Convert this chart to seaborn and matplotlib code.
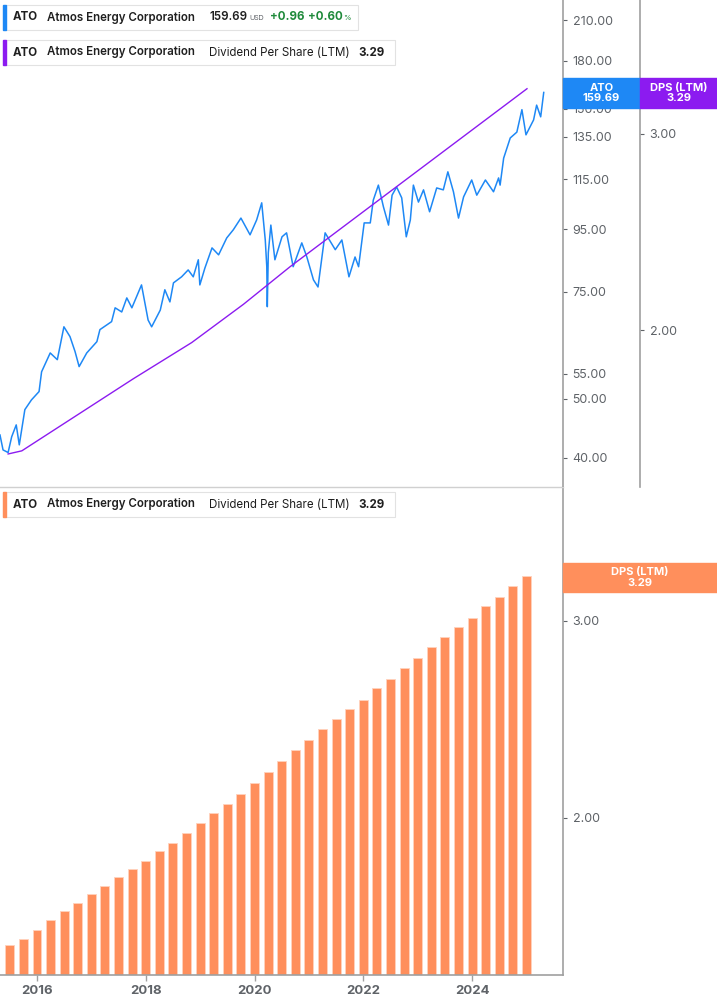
import seaborn as sns
import pandas as pd
import matplotlib.pyplot as plt
from matplotlib.ticker import FixedLocator, NullLocator, FixedFormatter
from matplotlib.patches import Rectangle

###################
# Data
# price panel x positions are in the top panel's own time units (no tick labels there)
price_years = [2015.32, 2015.38, 2015.48, 2015.55, 2015.64, 2015.70, 2015.81, 2015.94, 2016.09, 2016.14,
               2016.31, 2016.45, 2016.58, 2016.70, 2016.80, 2016.88, 2017.03, 2017.23, 2017.29, 2017.52,
               2017.59, 2017.72, 2017.82, 2017.92, 2018.11, 2018.24, 2018.31, 2018.48, 2018.57, 2018.67,
               2018.74, 2018.90, 2019.03, 2019.13, 2019.23, 2019.26, 2019.36, 2019.50, 2019.63, 2019.79,
               2019.92, 2020.07, 2020.25, 2020.38, 2020.48, 2020.55, 2020.58, 2020.59, 2020.61, 2020.66,
               2020.74, 2020.88, 2020.97, 2021.10, 2021.27, 2021.37, 2021.50, 2021.59, 2021.73, 2021.93,
               2022.06, 2022.20, 2022.32, 2022.39, 2022.50, 2022.62, 2022.68, 2022.78, 2022.88, 2022.98,
               2023.05, 2023.14, 2023.24, 2023.33, 2023.41, 2023.47, 2023.57, 2023.67, 2023.79, 2023.93,
               2024.06, 2024.15, 2024.26, 2024.36, 2024.46, 2024.62, 2024.72, 2024.89, 2025.05, 2025.15,
               2025.18, 2025.25, 2025.38, 2025.51, 2025.61, 2025.69, 2025.84, 2025.90, 2025.98, 2026.04]
price_values = [43.6, 41.2, 40.8, 43.3, 45.3, 42.0, 48.0, 49.8, 51.4, 55.4,
                59.5, 58.0, 65.7, 63.3, 59.8, 56.5, 59.5, 62.1, 65.0, 67.0,
                70.6, 69.5, 73.3, 70.6, 77.0, 67.4, 65.7, 70.0, 75.6, 72.2,
                77.6, 79.4, 81.5, 79.4, 84.7, 77.0, 82.1, 88.6, 86.3, 92.0,
                94.9, 99.2, 93.1, 98.5, 105.1, 91.3, 82.5, 70.9, 87.0, 96.6,
                84.7, 92.4, 93.8, 82.5, 90.3, 85.6, 78.5, 76.4, 93.8, 88.0,
                91.3, 79.4, 85.6, 82.5, 97.4, 97.4, 106.2, 112.4, 103.5, 96.6,
                108.2, 111.6, 107.1, 92.4, 98.5, 112.4, 105.4, 110.4, 101.6, 111.2,
                110.4, 118.2, 109.6, 99.2, 107.5, 114.6, 108.2, 114.6, 109.6, 115.5,
                112.4, 124.5, 134.4, 137.4, 149.6, 136.0, 143.9, 152.2, 145.6, 159.69]

dps_line_years = [2015.48, 2015.75, 2017.95, 2019.10, 2020.12, 2021.04, 2025.71]
dps_line_values = [1.55, 1.56, 1.81, 1.95, 2.11, 2.28, 3.29]

quarters = pd.period_range("2015Q3", "2025Q1", freq="Q")
dps_bars = [1.54, 1.56, 1.59, 1.62, 1.65, 1.68, 1.71, 1.74, 1.77, 1.80,
            1.83, 1.87, 1.90, 1.94, 1.98, 2.02, 2.06, 2.10, 2.15, 2.20,
            2.25, 2.30, 2.35, 2.40, 2.45, 2.50, 2.55, 2.61, 2.66, 2.72,
            2.78, 2.84, 2.90, 2.96, 3.02, 3.09, 3.15, 3.22, 3.29]

price_ticks = [40, 50, 55, 75, 95, 115, 135, 150, 180, 210]
dps_ticks = [2.0, 3.0]
year_ticks = [2016, 2018, 2020, 2022, 2024]

###################
# Setup
plt.rcParams["font.family"] = "Inter"
blue, purple, orange = "#1E88F5", "#8C1BF0", "#FF8F5C"
grey = "#5f6368"
W, H = 717, 1005
fig = plt.figure(figsize=(W / 100, H / 100), dpi=100)

def rect(x0, y0, x1, y1):
    return [x0 / W, 1 - y1 / H, (x1 - x0) / W, (y1 - y0) / H]

ax_top = fig.add_axes(rect(0, 0, 563, 487))
ax_bot = fig.add_axes(rect(0, 487, 563, 975))

###################
# Price panel
price = pd.DataFrame({"year": price_years, "price": price_values})
sns.lineplot(price, x="year", y="price", ax=ax_top, color=blue, linewidth=1.1)
ax_dps = ax_top.twinx()
ax_top.set_yscale("log")
ax_top.set_ylim(35.8, 226.7)
ax_top.set_xlim(2015.32, 2026.42)
ax_top.yaxis.tick_right()
ax_top.yaxis.set_major_locator(FixedLocator(price_ticks))
ax_top.yaxis.set_major_formatter(FixedFormatter([f"{t:.2f}" for t in price_ticks]))
ax_top.yaxis.set_minor_locator(NullLocator())
ax_top.set_xticks([])
ax_top.set_xlabel("")
ax_top.set_ylabel("")

dps = pd.DataFrame({"year": dps_line_years, "dps": dps_line_values})
sns.lineplot(dps, x="year", y="dps", ax=ax_dps, color=purple, linewidth=1.0)
ax_dps.set_yscale("log")
ax_dps.set_ylim(1.448, 3.95)
ax_dps.spines["right"].set_position(("axes", 640 / 563))
ax_dps.yaxis.set_major_locator(FixedLocator(dps_ticks))
ax_dps.yaxis.set_major_formatter(FixedFormatter(["2.00", "3.00"]))
ax_dps.yaxis.set_minor_locator(NullLocator())
ax_dps.set_ylabel("")

###################
# Dividend bars
bars = pd.DataFrame({"x": [q.year + (q.quarter - 1) / 4 for q in quarters], "dps": dps_bars})
ax_bot.bar(bars["x"], bars["dps"], width=0.165, color=orange, edgecolor="#ffd2bd", linewidth=0.6)
ax_bot.set_yscale("log")
ax_bot.set_ylim(1.448, 3.95)
ax_bot.set_xlim(2015.32, 2025.67)
ax_bot.yaxis.tick_right()
ax_bot.yaxis.set_major_locator(FixedLocator(dps_ticks))
ax_bot.yaxis.set_major_formatter(FixedFormatter(["2.00", "3.00"]))
ax_bot.yaxis.set_minor_locator(NullLocator())
ax_bot.set_xticks(year_ticks)
ax_bot.set_xticklabels([str(y) for y in year_ticks], fontweight="bold")

for ax in (ax_top, ax_dps, ax_bot):
    for s in ax.spines.values():
        s.set_visible(False)
    ax.tick_params(axis="y", colors=grey, labelsize=9, length=3, width=0.8, pad=4)
    ax.set_facecolor("none")
ax_top.tick_params(axis="y", left=False, labelleft=False, right=True, labelright=True)
for s in (ax_top.spines["right"], ax_dps.spines["right"], ax_bot.spines["right"], ax_bot.spines["bottom"]):
    s.set_visible(True)
    s.set_color("#a0a0a0")
    s.set_linewidth(1.2)
ax_bot.tick_params(axis="x", colors=grey, labelsize=9.5, length=4, width=1, color="#a0a0a0")

# panel separator
fig.add_artist(plt.Line2D([0, 563 / W], [1 - 487 / H] * 2, color="#d0d0d0", linewidth=1))

###################
# Value badges
def badge(x0, y0, x1, y1, color, lines):
    fig.patches.append(Rectangle((x0 / W, 1 - y1 / H), (x1 - x0) / W, (y1 - y0) / H,
                                 transform=fig.transFigure, color=color, zorder=5))
    fig.text((x0 + x1) / 2 / W, 1 - (y0 + y1) / 2 / H, lines, color="white", fontsize=8,
             fontweight="bold", ha="center", va="center", linespacing=1.0, zorder=6)

badge(563, 78, 640, 108, blue, "ATO\n159.69")
badge(640, 78, 717, 108, purple, "DPS (LTM)\n3.29")
badge(563, 563, 717, 592, orange, "DPS (LTM)\n3.29")

###################
# Legend boxes
def legend_box(y0, y1, x1, color, parts):
    fig.patches.append(Rectangle((3 / W, 1 - y1 / H), (x1 - 3) / W, (y1 - y0) / H,
                                 transform=fig.transFigure, facecolor="white", edgecolor="#e2e2e2",
                                 linewidth=0.8, zorder=5))
    fig.patches.append(Rectangle((3 / W, 1 - y1 / H), 3 / W, (y1 - y0) / H,
                                 transform=fig.transFigure, color=color, zorder=6))
    for x, txt, c, w, sz in parts:
        fig.text(x / W, 1 - (y0 + y1) / 2 / H, txt, color=c, fontweight=w, fontsize=sz,
                 ha="left", va="center", zorder=7)

dark = "#1f1f1f"
fs = 8.3
legend_box(5, 30, 358, blue, [
    (13, "ATO", dark, "bold", fs), (47, "Atmos Energy Corporation", dark, "semibold", fs),
    (209, "159.69", dark, "semibold", fs), (249, "USD", grey, "normal", 5),
    (270, "+0.96", "#1f8a3b", "bold", fs), (308, "+0.60", "#1f8a3b", "bold", fs),
    (343, "%", "#1f8a3b", "normal", 5.5)])
legend_box(40, 65, 395, purple, [
    (13, "ATO", dark, "bold", fs), (47, "Atmos Energy Corporation", dark, "semibold", fs),
    (209, "Dividend Per Share (LTM)", dark, "normal", fs), (358, "3.29", dark, "bold", fs)])
legend_box(492, 517, 395, orange, [
    (13, "ATO", dark, "bold", fs), (47, "Atmos Energy Corporation", dark, "semibold", fs),
    (209, "Dividend Per Share (LTM)", dark, "normal", fs), (358, "3.29", dark, "bold", fs)])

###################
# Export
fig.savefig("out.png", dpi=100)
